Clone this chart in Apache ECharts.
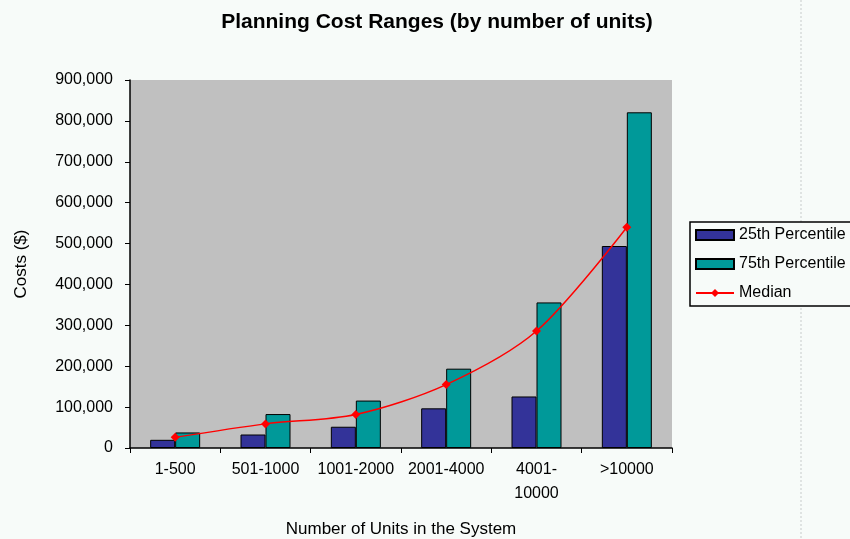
<!DOCTYPE html>
<html>
<head>
<meta charset="utf-8">
<script src="https://cdn.jsdelivr.net/npm/echarts@6/dist/echarts.min.js"></script>
<style>
html,body{margin:0;padding:0;background:#f7fbf9;}
#chart{width:850px;height:539px;}
</style>
</head>
<body>
<div id="chart"></div>
<script>
const categories = ['1-500', '501-1000', '1001-2000', '2001-4000', '4001-\n10000', '>10000'];
const p25 = [20000, 33000, 52000, 97000, 126000, 494000];
const p75 = [38000, 83000, 116000, 194000, 356000, 821000];
const median = [26000, 59000, 82000, 155000, 286000, 540000];
const yTicks = { min: 0, max: 900000, interval: 100000 };

const chart = echarts.init(document.getElementById('chart'));
const font = 'Liberation Sans, Arial, sans-serif';
chart.setOption({
  backgroundColor: '#f7fbf9',
  animation: false,
  title: {
    text: 'Planning Cost Ranges (by number of units)',
    left: 432, top: 7, textAlign: 'center',
    textStyle: { fontFamily: font, fontSize: 21, fontWeight: 'bold', color: '#000' }
  },
  graphic: [{
    type: 'line', z: -1,
    shape: { x1: 801, y1: 0, x2: 801, y2: 539 },
    style: { stroke: '#c8cccc', lineWidth: 1, lineDash: [2, 2] }
  }],
  legend: {
    orient: 'vertical', left: 690, top: 222,
    backgroundColor: '#f7fbf9',
    borderColor: '#000', borderWidth: 1.5,
    padding: [5, 20, 5, 5],
    itemGap: 13, itemWidth: 38, itemHeight: 10,
    textStyle: { fontFamily: font, fontSize: 16, color: '#000' },
    data: [
      { name: '25th Percentile', icon: 'rect' },
      { name: '75th Percentile', icon: 'rect' },
      { name: 'Median' }
    ]
  },
  grid: { left: 130, right: 178, top: 80, bottom: 91, containLabel: false, outerBoundsMode: 'none',
    show: true, backgroundColor: '#c0c0c0', borderColor: '#c0c0c0', borderWidth: 0 },
  xAxis: {
    type: 'category', data: categories,
    name: 'Number of Units in the System', nameLocation: 'middle', nameGap: 73,
    nameTextStyle: { fontFamily: font, fontSize: 17, color: '#000' },
    axisLine: { lineStyle: { color: '#000', width: 1.5 } },
    axisTick: { show: true, inside: false, length: 5, lineStyle: { color: '#000' } },
    axisLabel: { fontFamily: font, fontSize: 16, color: '#000', margin: 10, lineHeight: 24, interval: 0 }
  },
  yAxis: {
    type: 'value', min: yTicks.min, max: yTicks.max, interval: yTicks.interval,
    name: 'Costs ($)', nameLocation: 'middle', nameGap: 100, nameRotate: 90,
    nameTextStyle: { fontFamily: font, fontSize: 17, color: '#000' },
    axisLine: { show: true, lineStyle: { color: '#000', width: 1.5 } },
    axisTick: { show: true, length: 5, lineStyle: { color: '#000' } },
    splitLine: { show: false },
    axisLabel: {
      fontFamily: font, fontSize: 16, color: '#000', margin: 17,
      formatter: v => v.toLocaleString('en-US')
    }
  },
  series: [
    { name: '25th Percentile', type: 'bar', data: p25, barWidth: 25, barGap: '0%',
      itemStyle: { color: '#333399', borderColor: '#000', borderWidth: 1 } },
    { name: '75th Percentile', type: 'bar', data: p75, barWidth: 25,
      itemStyle: { color: '#009999', borderColor: '#000', borderWidth: 1 } },
    { name: 'Median', type: 'line', data: median, smooth: 0.3,
      symbol: 'diamond', symbolSize: 9,
      lineStyle: { color: '#ff0000', width: 1.5 },
      itemStyle: { color: '#ff0000' } }
  ]
});
</script>
</body>
</html>
